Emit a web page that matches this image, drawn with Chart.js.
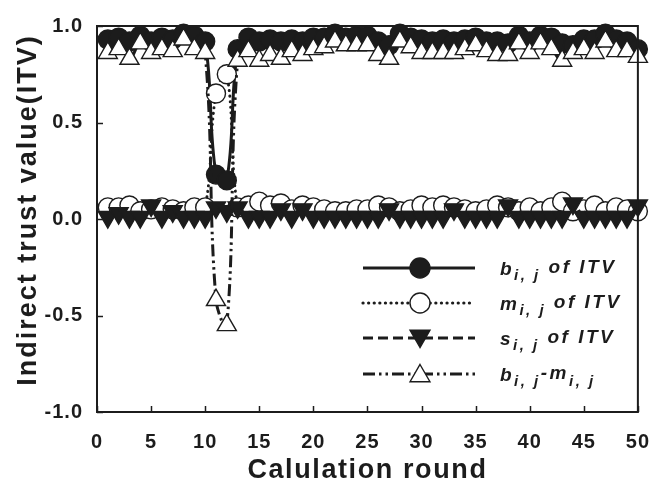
<!DOCTYPE html>
<html>
<head>
<meta charset="utf-8">
<script src="https://cdn.jsdelivr.net/npm/chart.js@4/dist/chart.umd.min.js"></script>
<style>
  html, body { margin: 0; padding: 0; background: #ffffff; }
  #wrap { width: 667px; height: 482px; position: relative; }
</style>
</head>
<body>
<div id="wrap"><canvas id="c" width="667" height="482"></canvas></div>
<script>
// Calculation rounds
const rounds = [1,2,3,4,5,6,7,8,9,10,11,12,13,14,15,16,17,18,19,20,21,22,23,24,25,
                26,27,28,29,30,31,32,33,34,35,36,37,38,39,40,41,42,43,44,45,46,47,48,49,50];

// b(i,j) of the indirect trust value
const bVals = [0.93,0.94,0.92,0.95,0.92,0.94,0.93,0.96,0.95,0.92,0.23,0.20,0.88,0.94,0.92,
               0.93,0.92,0.93,0.92,0.94,0.94,0.96,0.94,0.95,0.95,0.92,0.90,0.96,0.94,0.93,
               0.92,0.93,0.92,0.93,0.94,0.92,0.92,0.91,0.95,0.92,0.95,0.94,0.91,0.90,0.93,
               0.93,0.96,0.93,0.92,0.88];

// m(i,j) of the indirect trust value
const mVals = [0.06,0.06,0.07,0.04,0.05,0.06,0.05,0.04,0.06,0.06,0.65,0.75,0.06,0.07,0.09,
               0.07,0.08,0.05,0.07,0.06,0.05,0.04,0.04,0.05,0.05,0.07,0.06,0.04,0.05,0.07,
               0.06,0.07,0.06,0.05,0.04,0.05,0.07,0.06,0.04,0.06,0.04,0.06,0.09,0.04,0.05,
               0.07,0.04,0.06,0.05,0.04];

// s(i,j) of the indirect trust value
const sVals = [0.01,0.03,0.01,0.01,0.07,0.01,0.04,0.01,0.01,0.01,0.06,0.04,0.06,0.01,0.01,
               0.01,0.05,0.01,0.05,0.01,0.01,0.01,0.01,0.01,0.01,0.01,0.05,0.01,0.01,0.01,
               0.01,0.01,0.05,0.01,0.01,0.01,0.01,0.07,0.01,0.01,0.01,0.01,0.01,0.08,0.01,
               0.01,0.01,0.01,0.01,0.07];

// b(i,j) - m(i,j)
const bmVals = [0.86,0.88,0.83,0.91,0.86,0.88,0.87,0.93,0.88,0.86,-0.42,-0.55,0.82,0.87,0.82,
                0.85,0.83,0.87,0.85,0.88,0.89,0.92,0.90,0.90,0.90,0.85,0.83,0.92,0.89,0.86,
                0.86,0.86,0.86,0.88,0.90,0.87,0.85,0.85,0.91,0.86,0.91,0.88,0.82,0.86,0.88,
                0.86,0.92,0.87,0.87,0.84];

const xTicks = [0,5,10,15,20,25,30,35,40,45,50];
const yTicks = [-1.0,-0.5,0.0,0.5,1.0];

const INK = '#1c1c1c';
const FAMILY = '"Liberation Sans", Arial, Helvetica, sans-serif';

const pairs = vals => rounds.map((r, i) => ({ x: r, y: vals[i] }));

// Line and marker styles for each series
const styles = [
  { dash: [], cap: 'butt', pointStyle: 'circle', radius: 9.5, rotation: 0, fill: INK },
  { dash: [0.1, 5.5], cap: 'round', pointStyle: 'circle', radius: 9.5, rotation: 0, fill: '#ffffff' },
  { dash: [10, 5], cap: 'butt', pointStyle: 'triangle', radius: 11, rotation: 180, fill: INK },
  { dash: [12, 4, 2.5, 4, 2.5, 4], cap: 'butt', pointStyle: 'triangle', radius: 11, rotation: 0, fill: '#ffffff' }
];

function makeSet(vals, st, order) {
  return {
    data: pairs(vals),
    borderColor: INK,
    borderWidth: 3,
    borderDash: st.dash,
    borderCapStyle: st.cap,
    tension: 0.4,
    pointStyle: st.pointStyle,
    pointRadius: st.radius,
    pointRotation: st.rotation,
    pointBackgroundColor: st.fill,
    pointBorderColor: INK,
    pointBorderWidth: 1.4,
    clip: false,
    order: order
  };
}

// Legend entries: text pieces with size and baseline offset
const legendRows = [
  [{ t: 'b', s: 19, dy: 0 }, { t: 'i, j', s: 15, dy: 5 }, { t: ' of ITV', s: 19, dy: -2 }],
  [{ t: 'm', s: 19, dy: 0 }, { t: 'i, j', s: 15, dy: 5 }, { t: ' of ITV', s: 19, dy: -2 }],
  [{ t: 's', s: 19, dy: 0 }, { t: 'i, j', s: 15, dy: 5 }, { t: ' of ITV', s: 19, dy: -2 }],
  [{ t: 'b', s: 19, dy: 0 }, { t: 'i, j', s: 15, dy: 5 }, { t: '-m', s: 19, dy: -2 }, { t: 'i, j', s: 15, dy: 5 }]
];

const decorations = {
  id: 'decorations',
  beforeDraw(chart) {
    chart.ctx.letterSpacing = '1px';
  },
  afterDraw(chart) {
    const ctx = chart.ctx;
    const a = chart.chartArea;
    const xs = chart.scales.x, ys = chart.scales.y;
    ctx.save();
    // frame
    ctx.strokeStyle = INK;
    ctx.lineWidth = 2;
    ctx.strokeRect(a.left, a.top, a.right - a.left, a.bottom - a.top);
    // inward tick marks
    ctx.lineWidth = 1.5;
    ctx.beginPath();
    xTicks.forEach(v => {
      const px = Math.round(xs.getPixelForValue(v)) + 0.5;
      ctx.moveTo(px, a.bottom);
      ctx.lineTo(px, a.bottom - 6);
    });
    yTicks.forEach(v => {
      const py = Math.round(ys.getPixelForValue(v)) + 0.5;
      ctx.moveTo(a.left, py);
      ctx.lineTo(a.left + 6, py);
    });
    ctx.stroke();

    // axis titles
    ctx.fillStyle = INK;
    ctx.font = `bold 27px ${FAMILY}`;
    ctx.letterSpacing = '1.6px';
    ctx.textAlign = 'center';
    ctx.textBaseline = 'alphabetic';
    ctx.fillText('Calulation round', (a.left + a.right) / 2, 478);
    ctx.save();
    ctx.translate(36, 210);
    ctx.rotate(-Math.PI / 2);
    ctx.letterSpacing = '2px';
    ctx.fillText('Indirect trust value(ITV)', 0, 0);
    ctx.restore();

    // legend
    const rowY = [268, 303, 338, 374];
    const x0 = 363, x1 = 475, xm = 420;
    styles.forEach((st, i) => {
      const y = rowY[i];
      ctx.save();
      ctx.strokeStyle = INK;
      ctx.lineWidth = 3.2;
      ctx.lineCap = st.cap;
      ctx.setLineDash(st.dash);
      ctx.beginPath();
      ctx.moveTo(x0, y);
      ctx.lineTo(x1, y);
      ctx.stroke();
      ctx.restore();
      ctx.save();
      ctx.fillStyle = st.fill;
      ctx.strokeStyle = INK;
      ctx.lineWidth = 1.4;
      Chart.helpers.drawPoint(ctx, {
        pointStyle: st.pointStyle,
        radius: st.radius + 0.5,
        rotation: st.rotation,
        borderWidth: 1.4
      }, xm, y + (st.pointStyle === 'triangle' ? (st.rotation ? -2 : 2) : 0));
      ctx.restore();

      let cx = 500;
      ctx.textAlign = 'left';
      ctx.textBaseline = 'alphabetic';
      ctx.fillStyle = INK;
      ctx.letterSpacing = '2.5px';
      legendRows[i].forEach(p => {
        ctx.font = `italic bold ${p.s}px ${FAMILY}`;
        ctx.fillText(p.t, cx, y + 7 + p.dy);
        cx += ctx.measureText(p.t).width;
      });
    });
    ctx.restore();
  }
};

const tickFont = { family: FAMILY, size: 20, weight: 'bold' };

new Chart(document.getElementById('c'), {
  type: 'line',
  data: {
    datasets: [
      makeSet(bVals, styles[0], 4),
      makeSet(mVals, styles[1], 3),
      makeSet(sVals, styles[2], 2),
      makeSet(bmVals, styles[3], 1)
    ]
  },
  options: {
    responsive: false,
    animation: false,
    devicePixelRatio: 1,
    layout: { padding: { top: 17, right: 23, left: 0, bottom: 0 } },
    plugins: { legend: { display: false }, tooltip: { enabled: false } },
    scales: {
      x: {
        type: 'linear', min: 0, max: 50,
        afterBuildTicks: s => { s.ticks = xTicks.map(v => ({ value: v })); },
        afterFit: s => { s.height = 70; },
        grid: { display: false, drawTicks: false },
        border: { display: false },
        ticks: { font: tickFont, color: INK, padding: 18, maxRotation: 0, autoSkip: false }
      },
      y: {
        type: 'linear', min: -1, max: 1,
        afterBuildTicks: s => { s.ticks = yTicks.map(v => ({ value: v })); },
        afterFit: s => { s.width = 97; },
        grid: { display: false, drawTicks: false },
        border: { display: false },
        ticks: { font: tickFont, color: INK, padding: 14, callback: v => Number(v).toFixed(1) }
      }
    }
  },
  plugins: [decorations]
});
</script>
</body>
</html>
